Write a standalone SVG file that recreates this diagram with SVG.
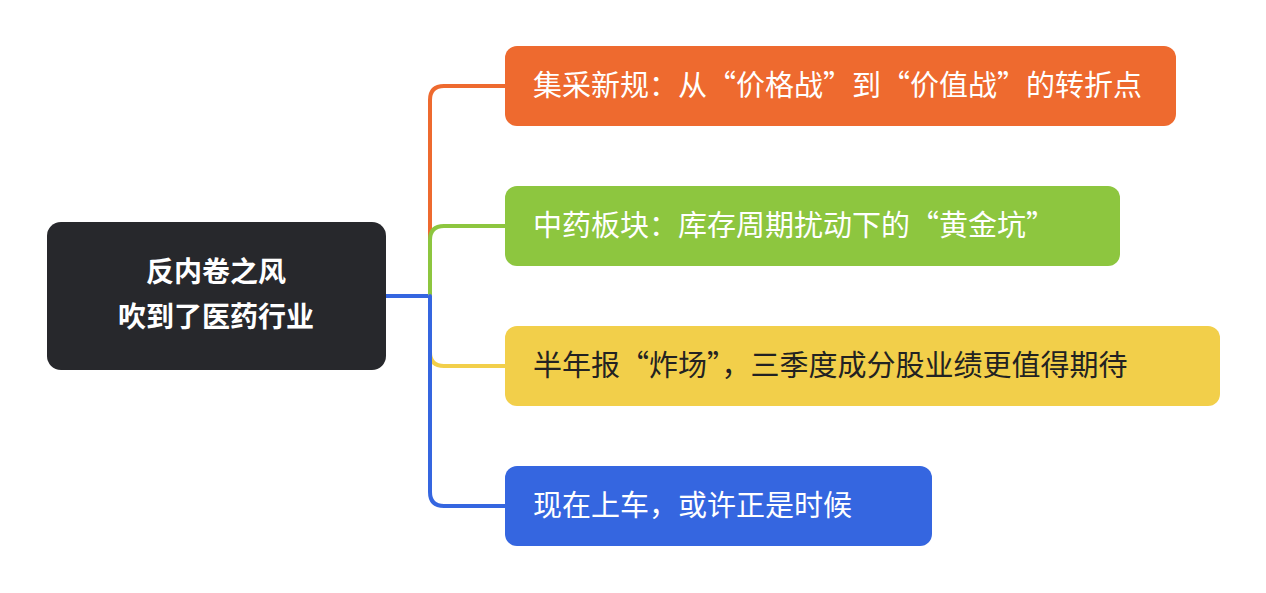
<svg xmlns="http://www.w3.org/2000/svg" width="1266" height="593" viewBox="0 0 1266 593">
<style>
.c{fill:none;stroke-width:4;stroke-linecap:round}
.t{font-family:"Noto Sans CJK SC","Noto Sans",sans-serif;font-size:29px;fill:#fff}
.r{font-family:"Noto Sans CJK SC","Noto Sans",sans-serif;font-size:28px;font-weight:bold;fill:#fff;text-anchor:middle}
</style>
<rect width="1266" height="593" fill="#fff"/>
<g id="connectors">
<path class="c" stroke="#3566e0" d="M386 296H430"/>
<path class="c" stroke="#ee6a2f" d="M430 296V100Q430 86 444 86H505"/>
<path class="c" stroke="#8dc63f" d="M430 296V240Q430 226 444 226H505"/>
<path class="c" stroke="#f2cf4a" d="M430 296V352Q430 366 444 366H505"/>
<path class="c" stroke="#3566e0" d="M430 296V492Q430 506 444 506H505"/>
</g>
<g id="root">
<rect x="47" y="222" width="339" height="148" rx="14" fill="#27282c"/>
<text class="r" x="216" y="282">反内卷之风</text>
<text class="r" x="216" y="327">吹到了医药行业</text>
</g>
<g id="n1">
<rect x="505" y="46" width="671" height="80" rx="12" fill="#ee6a2f"/>
<text class="t" x="533" y="96">集采新规：从“价格战”到“价值战”的转折点</text>
</g>
<g id="n2">
<rect x="505" y="186" width="615" height="80" rx="12" fill="#8dc63f"/>
<text class="t" x="533" y="236">中药板块：库存周期扰动下的“黄金坑”</text>
</g>
<g id="n3">
<rect x="505" y="326" width="715" height="80" rx="12" fill="#f2cf4a"/>
<text class="t" x="533" y="376" style="fill:#222">半年报“炸场”，三季度成分股业绩更值得期待</text>
</g>
<g id="n4">
<rect x="505" y="466" width="427" height="80" rx="12" fill="#3566e0"/>
<text class="t" x="533" y="516">现在上车，或许正是时候</text>
</g>
</svg>
